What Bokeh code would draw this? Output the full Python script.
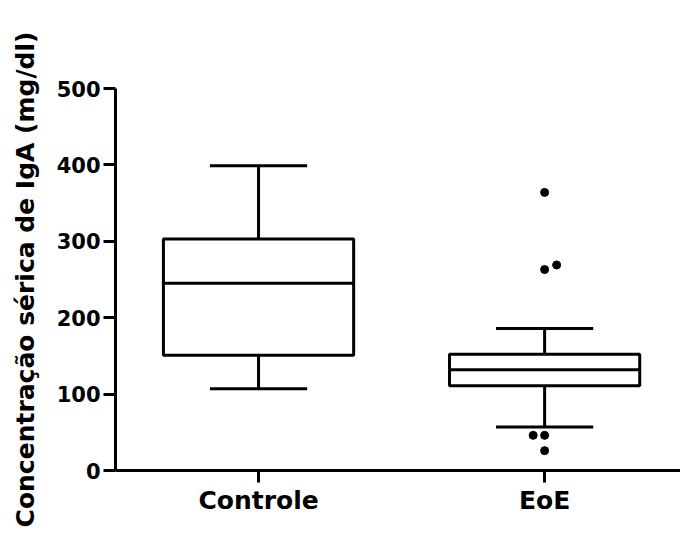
from bokeh.plotting import figure
from bokeh.models import Range1d, FixedTicker
from bokeh.embed import file_html
from bokeh.resources import INLINE

categories = ["Controle", "EoE"]
cat_pos = [0, 1]
q1 = [151, 111]
median = [245, 132]
q3 = [303, 152]
whisker_low = [107, 57]
whisker_high = [399, 186]

outlier_group = [1, 1, 1, 1, 1, 1]
outlier_offset = [0.0, 0.0, 0.042, -0.04, 0.0, 0.0]
outlier_values = [364, 263, 269, 46, 46, 26]

y_ticks = [0, 100, 200, 300, 400, 500]

FONT = "DejaVu Sans"
BOX_W = 0.665
CAP_W = 0.34

p = figure(width=680, height=536, output_backend="svg", toolbar_location=None,
           x_range=Range1d(-0.5, 1.475), y_range=Range1d(0, 500),
           min_border_left=115, min_border_top=88, min_border_right=0, min_border_bottom=66)

p.outline_line_color = None
p.xgrid.grid_line_color = None
p.ygrid.grid_line_color = None
p.background_fill_color = "white"

lw = 3
# whiskers
p.segment(x0=cat_pos, y0=q3, x1=cat_pos, y1=whisker_high, line_color="black", line_width=lw)
p.segment(x0=cat_pos, y0=whisker_low, x1=cat_pos, y1=q1, line_color="black", line_width=lw)
# caps
p.segment(x0=[c - CAP_W / 2 for c in cat_pos], y0=whisker_high,
          x1=[c + CAP_W / 2 for c in cat_pos], y1=whisker_high, line_color="black", line_width=lw)
p.segment(x0=[c - CAP_W / 2 for c in cat_pos], y0=whisker_low,
          x1=[c + CAP_W / 2 for c in cat_pos], y1=whisker_low, line_color="black", line_width=lw)
# boxes
p.quad(left=[c - BOX_W / 2 for c in cat_pos], right=[c + BOX_W / 2 for c in cat_pos],
       bottom=q1, top=q3, fill_color="white", line_color="black", line_width=lw)
# medians
p.segment(x0=[c - BOX_W / 2 for c in cat_pos], y0=median,
          x1=[c + BOX_W / 2 for c in cat_pos], y1=median, line_color="black", line_width=lw)
# outliers
p.scatter(x=[g + o for g, o in zip(outlier_group, outlier_offset)], y=outlier_values,
          size=8, color="black")

# axes
for ax in (p.xaxis[0], p.yaxis[0]):
    ax.axis_line_width = lw
    ax.axis_line_color = "black"
    ax.major_tick_line_width = lw
    ax.major_tick_line_color = "black"
    ax.major_tick_out = 12
    ax.major_tick_in = 0
    ax.minor_tick_line_color = None
    ax.major_label_text_font = FONT
    ax.major_label_text_font_style = "bold"
    ax.major_label_text_color = "black"

p.xaxis.ticker = FixedTicker(ticks=cat_pos)
p.xaxis.major_label_overrides = {c: l for c, l in zip(cat_pos, categories)}
p.xaxis.major_label_text_font_size = "25px"
p.xaxis.major_label_standoff = 3

p.yaxis.ticker = FixedTicker(ticks=y_ticks)
p.yaxis.major_label_text_font_size = "21px"
p.yaxis.major_label_standoff = 3

p.yaxis.axis_label = "Concentração sérica de IgA (mg/dl)"
p.yaxis.axis_label_text_font = FONT
p.yaxis.axis_label_text_font_style = "bold"
p.yaxis.axis_label_text_font_size = "25px"
p.yaxis.axis_label_text_color = "black"
p.yaxis.axis_label_standoff = 14

open("out.html", "w").write(file_html(p, INLINE))
